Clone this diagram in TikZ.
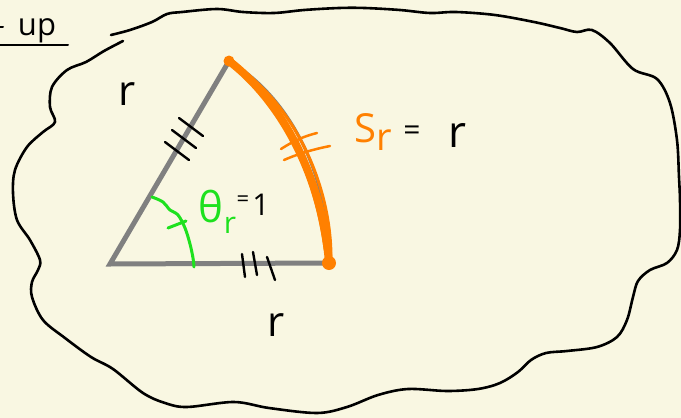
\documentclass[tikz,border=0pt]{standalone}
\usepackage{fontspec}
\setmainfont{Open Sans}
\definecolor{paper}{RGB}{249,247,226}
\definecolor{sketchgray}{RGB}{128,128,128}
\definecolor{sketchorange}{RGB}{255,128,0}
\definecolor{sketchgreen}{RGB}{30,225,30}
\begin{document}
\begin{tikzpicture}[x=1pt,y=-1pt,
  ink/.style={draw=black,line width=2.6pt,line cap=round,line join=round},
  tickmark/.style={draw=black,line width=2.4pt,line cap=round},
  lbl/.style={inner sep=0pt,outer sep=0pt},
  side/.style={draw=sketchgray,line width=5pt,line join=miter},
  orng/.style={draw=sketchorange,line cap=round,line join=round},
  grn/.style={draw=sketchgreen,line width=3pt,line cap=round,line join=round}]
\fill[paper] (0,0) rectangle (681,418);
\useasboundingbox (0,0) rectangle (681,418);

% header fragment
\node[lbl,font=\fontsize{31}{31}\selectfont] (hdr) at (37,31) {up};
\draw[ink,line width=2pt] (0,45) -- (68,45);
\draw[ink,line width=2pt] (0,27) -- (3,27);

% blob outline
\draw[ink] plot[smooth,tension=0.55] coordinates {
 (123,41) (104,51) (86,62) (67,70) (52,87) (50,107) (55,122) (43,132) (27,147)
 (15,170) (13,193) (17,220) (30,240) (40,260) (38,270) (32,282) (32,297)
 (43,320) (65,338) (91,357) (113,369) (143,393) (165,403) (187,407) (234,402)
 (269,408) (317,413) (347,407) (378,395) (408,389) (447,391) (478,389)
 (500,383) (518,372) (531,360) (546,353) (567,351) (597,347) (617,337)
 (627,320) (633,297) (638,281) (650,270) (667,263) (677,250) (680,230)
 (680,200) (679,177) (677,140) (670,103) (657,79) (633,69) (610,43)
 (592,30) (577,32) (560,28) (534,22) (495,15) (456,12) (430,13) (400,10)
 (365,8) (339,8) (304,10) (274,13) (243,12) (217,9) (182,12) (167,14)
 (152,22) (130,30) (111,35)};

% triangle
\coordinate (O) at (110,264);
\coordinate (A) at (229,61);
\coordinate (B) at (329,263);
\draw[side] (A) -- (O) -- (B);
\draw[draw=sketchgray,line width=3pt] (A) .. controls (287,95) and (329,170) .. (B);

% orange arc strokes
\draw[orng,line width=8pt] (A) .. controls (280,100) and (322,175) .. (B);
\draw[orng,line width=3pt] (233,64) .. controls (290,100) and (331,180) .. (331,258);
\draw[orng,line width=2.5pt] (245,75) .. controls (300,130) and (318,200) .. (325,250);
\fill[sketchorange] (A) circle (5.5);
\fill[sketchorange] (B) circle (7);

% tick marks on the sides
\draw[tickmark] (165,142) -- (189,160);
\draw[tickmark] (172,130) -- (196,148);
\draw[tickmark] (179,118) -- (203,136);
\draw[tickmark] (242,254) -- (245,277);
\draw[tickmark] (253,252) -- (257,275);
\draw[tickmark] (267,257) -- (275,280);
\draw[orng,line width=2.5pt] (281,149) .. controls (295,140) and (305,136) .. (317,133);
\draw[orng,line width=2.5pt] (284,160) .. controls (300,153) and (315,149) .. (330,146);

% angle
\draw[grn] plot[smooth,tension=0.6] coordinates {(152,197) (163,202) (170,210) (178,215) (185,228) (190,244) (193,258) (194,267)};
\draw[grn] (168,228) -- (186,221);

% labels
\node[lbl,font=\fontsize{42}{42}\selectfont] (r1) at (127,94) {r};
\node[lbl,font=\fontsize{42}{42}\selectfont] (r2) at (276,325) {r};
\node[lbl,font=\fontsize{42}{42}\selectfont,text=sketchgreen] (th) at (211,207) {θ};
\node[lbl,font=\fontsize{30}{30}\selectfont,text=sketchgreen] (thr) at (230,225) {r};
\node[lbl,font=\fontsize{22}{22}\selectfont] (eq1) at (243,201) {=};
\node[lbl,font=\fontsize{30}{30}\selectfont] (one) at (261,205) {1};
\node[lbl,font=\fontsize{40}{40}\selectfont,text=sketchorange] (S) at (365,128) {S};
\node[lbl,font=\fontsize{38}{38}\selectfont,text=sketchorange] (Sr) at (384,140) {r};
\node[lbl,font=\fontsize{30}{30}\selectfont] (eq2) at (412,133) {=};
\node[lbl,font=\fontsize{44}{44}\selectfont] (r3) at (457,136) {r};
\end{tikzpicture}
\end{document}
